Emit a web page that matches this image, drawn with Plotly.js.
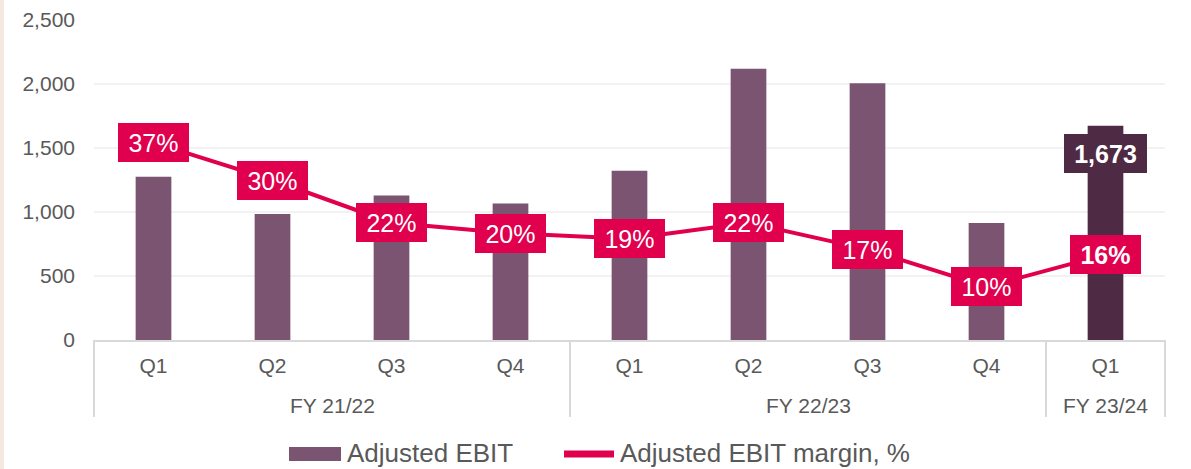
<!DOCTYPE html>
<html>
<head>
<meta charset="utf-8">
<script src="https://cdn.plot.ly/plotly-3.0.1.min.js"></script>
<style>
  html, body { margin: 0; padding: 0; background: #ffffff; }
  #chart { width: 1191px; height: 469px; }
  #strip { position: absolute; left: 0; top: 0; width: 4px; height: 469px; background: #F5E8DE; z-index: 10; }
</style>
</head>
<body>
<div id="strip"></div>
<div id="chart"></div>
<script>
// ---- data ----
const fiscalYears = ['FY 21/22','FY 21/22','FY 21/22','FY 21/22','FY 22/23','FY 22/23','FY 22/23','FY 22/23','FY 23/24'];
const quarters    = ['Q1','Q2','Q3','Q4','Q1','Q2','Q3','Q4','Q1'];
const adjustedEbit = [1275, 985, 1128, 1066, 1322, 2120, 2005, 915, 1673];
const ebitMarginPct = [37, 30, 22, 20, 19, 22, 17, 10, 16];
const yTickValues = [0, 500, 1000, 1500, 2000, 2500];
const highlightIndex = 8;
const seriesNames = ['Adjusted EBIT', 'Adjusted EBIT margin, %'];

// ---- style ----
const barColor = '#7A5470';
const barHighlight = '#4F2A44';
const lineColor = '#E0004D';
const textGrey = '#595959';
const axisGrey = '#D9D9D9';
const FONT = 'Arial, Liberation Sans, sans-serif';

// plot area geometry (pixels)
const W = 1191, H = 469;
const M = { l: 94, r: 26, t: 20, b: 129 };
const PW = W - M.l - M.r, PH = H - M.t - M.b;
const px2x = p => (p - M.l) / PW;
const py2y = p => (H - M.b - p) / PH;

const idx = quarters.map((q, i) => i);
const n = quarters.length;
const barColors = idx.map(i => i === highlightIndex ? barHighlight : barColor);

const barTrace = {
  type: 'bar', name: seriesNames[0],
  x: idx, y: adjustedEbit,
  marker: { color: barColors },
  hoverinfo: 'skip', showlegend: false
};
const lineTrace = {
  type: 'scatter', mode: 'lines', name: seriesNames[1],
  x: idx, y: ebitMarginPct, yaxis: 'y2',
  line: { color: lineColor, width: 4 },
  hoverinfo: 'skip', showlegend: false
};

const annotations = [];
const shapes = [];

// margin labels
ebitMarginPct.forEach((v, i) => {
  const bold = i === highlightIndex;
  annotations.push({
    x: i, y: v, xref: 'x', yref: 'y2',
    text: bold ? '<b>' + v + '%</b>' : v + '%',
    showarrow: false, bgcolor: lineColor,
    font: { color: '#ffffff', size: 25, family: FONT },
    width: 71, height: 39, borderpad: 0, borderwidth: 0,
    xanchor: 'center', yanchor: 'middle'
  });
});
// highlighted bar value
annotations.push({
  x: highlightIndex, y: adjustedEbit[highlightIndex], xref: 'x', yref: 'y',
  text: '<b>' + adjustedEbit[highlightIndex].toLocaleString('en-US') + '</b>',
  showarrow: false, bgcolor: barHighlight,
  font: { color: '#ffffff', size: 25, family: FONT },
  width: 83, height: 39, borderpad: 0, borderwidth: 0,
  xanchor: 'center', yanchor: 'middle', yshift: -28
});

// fiscal-year groups: labels and dividers
const groups = [];
fiscalYears.forEach((fy, i) => {
  if (!groups.length || groups[groups.length - 1].name !== fy) groups.push({ name: fy, start: i, end: i });
  else groups[groups.length - 1].end = i;
});
const boundaries = [0];
groups.forEach(g => {
  boundaries.push(g.end + 1);
  annotations.push({
    x: (g.start + g.end) / 2, xref: 'x', y: py2y(405), yref: 'paper',
    text: g.name, showarrow: false,
    font: { color: textGrey, size: 21, family: FONT },
    xanchor: 'center', yanchor: 'middle'
  });
});
boundaries.forEach(b => {
  shapes.push({
    type: 'line', xref: 'paper', yref: 'paper',
    x0: b / n, x1: b / n, y0: 0, y1: py2y(417),
    line: { color: axisGrey, width: 2 }
  });
});

// custom legend
shapes.push({
  type: 'rect', xref: 'paper', yref: 'paper',
  x0: px2x(289), x1: px2x(341), y0: py2y(447), y1: py2y(461),
  fillcolor: barColor, line: { width: 0 }
});
annotations.push({
  x: px2x(345), y: py2y(453), xref: 'paper', yref: 'paper',
  text: seriesNames[0], showarrow: false, xanchor: 'left', yanchor: 'middle',
  font: { color: textGrey, size: 26, family: FONT }
});
shapes.push({
  type: 'line', xref: 'paper', yref: 'paper',
  x0: px2x(564), x1: px2x(614), y0: py2y(454), y1: py2y(454),
  line: { color: lineColor, width: 7 }
});
annotations.push({
  x: px2x(618), y: py2y(453), xref: 'paper', yref: 'paper',
  text: seriesNames[1], showarrow: false, xanchor: 'left', yanchor: 'middle',
  font: { color: textGrey, size: 26, family: FONT }
});

const layout = {
  width: W, height: H,
  margin: M,
  paper_bgcolor: '#ffffff', plot_bgcolor: '#ffffff',
  font: { family: FONT, size: 21, color: textGrey },
  bargap: 0.7,
  showlegend: false,
  xaxis: {
    type: 'linear', range: [-0.5, n - 0.5],
    tickvals: idx, ticktext: quarters,
    showline: true, linecolor: axisGrey, linewidth: 2,
    ticks: '', showgrid: false, zeroline: false,
    ticklabelstandoff: 6,
    tickfont: { size: 21, color: textGrey }, fixedrange: true
  },
  yaxis: {
    range: [0, 2500], tickvals: yTickValues, tickformat: ',d',
    showgrid: true, gridcolor: '#F2F2F2', gridwidth: 2,
    zeroline: false, showline: false, ticks: '',
    ticklabelstandoff: 18,
    tickfont: { size: 21, color: textGrey }, fixedrange: true
  },
  yaxis2: { overlaying: 'y', side: 'right', range: [0, 60], visible: false, fixedrange: true },
  annotations: annotations,
  shapes: shapes
};

Plotly.newPlot('chart', [barTrace, lineTrace], layout, { displayModeBar: false, staticPlot: true });
</script>
</body>
</html>
